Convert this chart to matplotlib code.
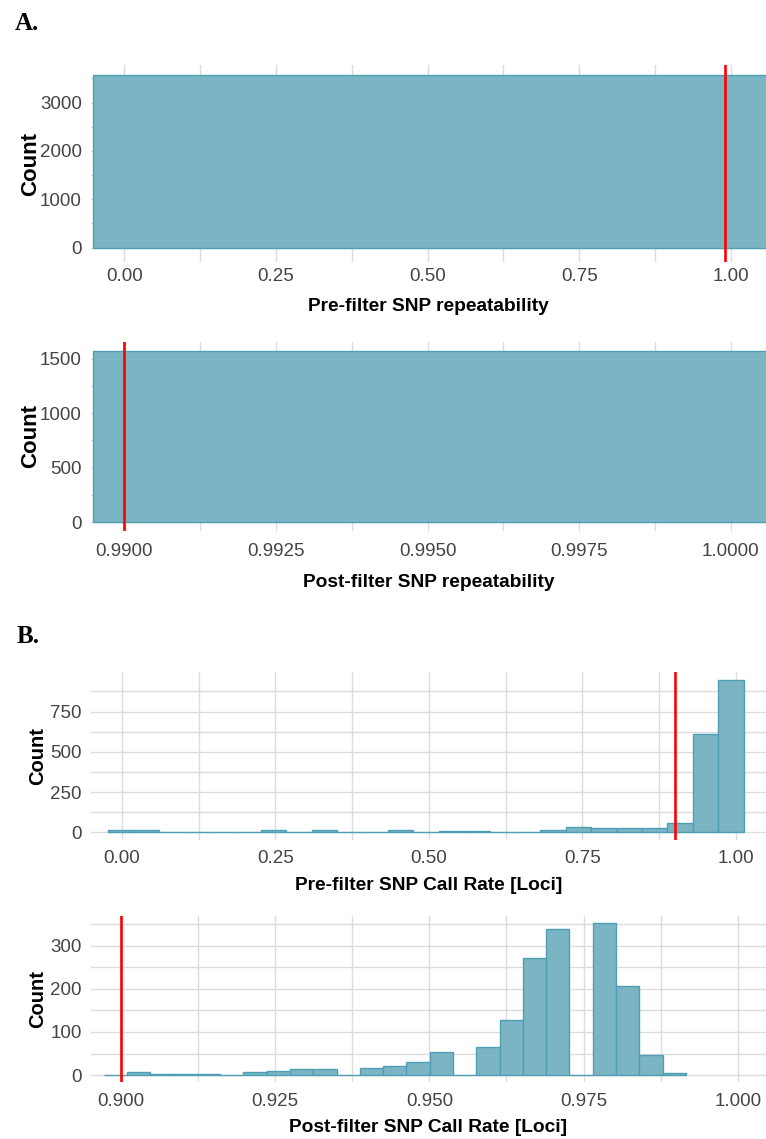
import matplotlib
matplotlib.use("Agg")
import matplotlib.pyplot as plt
import numpy as np
from matplotlib.ticker import MultipleLocator, FormatStrFormatter

# ---- data ----
# A: repeatability, one wide bin fills the whole panel
rep_pre_edges = [-0.051, 1.10]
rep_pre_counts = [3570]
rep_pre_cut = 0.99

rep_post_edges = [0.98948, 1.002]
rep_post_counts = [1570]
rep_post_cut = 0.99

# B: call rate, 25 bins each
cr_pre_start = -0.0223
cr_pre_width = 0.0414
cr_pre_counts = [14, 14, 5, 5, 5, 5, 12, 5, 12, 5, 5, 12, 5,
                 11, 11, 5, 5, 13, 33, 25, 25, 25, 60, 610, 948]
cr_pre_cut = 0.90

cr_post_start = 0.89721
cr_post_width = 0.003775
cr_post_counts = [0, 7, 3, 3, 3, 0, 7, 10, 13, 13, 0, 17, 20, 30,
                  53, 0, 65, 127, 272, 339, 0, 352, 206, 46, 6]
cr_post_cut = 0.90

FILL = "#7BB5C4"
EDGE = "#4E9FB3"
GRID = "#DCDCDC"
TICK_FONT = ["Liberation Sans", "DejaVu Sans"]
LAB_FONT = ["Liberation Sans", "DejaVu Sans"]

W, H = 766, 1139
fig = plt.figure(figsize=(W / 100, H / 100), dpi=100)


def make_axes(top_px, bottom_px, left_px=91):
    return fig.add_axes([left_px / W, 1 - bottom_px / H,
                         (W - left_px) / W, (bottom_px - top_px) / H])


def style(ax, xlim, ylim, xmaj, ymaj, xfmt, xlabel, xpad, xlab_y,
          count_x, count_size):
    ax.set_xlim(*xlim)
    ax.set_ylim(*ylim)
    for s in ax.spines.values():
        s.set_visible(False)
    ax.xaxis.set_major_locator(MultipleLocator(xmaj))
    ax.xaxis.set_minor_locator(MultipleLocator(xmaj / 2))
    ax.yaxis.set_major_locator(MultipleLocator(ymaj))
    ax.yaxis.set_minor_locator(MultipleLocator(ymaj / 2))
    ax.xaxis.set_major_formatter(FormatStrFormatter(xfmt))
    ax.grid(which="both", color=GRID, linewidth=1.0, zorder=0)
    ax.set_axisbelow(True)
    ax.tick_params(which="both", length=0)
    ax.tick_params(axis="x", pad=xpad, labelsize=13.5, labelcolor="#444444")
    ax.tick_params(axis="y", pad=6.5, labelsize=13.5, labelcolor="#444444")
    for t in ax.get_xticklabels() + ax.get_yticklabels():
        t.set_fontfamily(TICK_FONT)
    ax.set_xlabel(xlabel, fontsize=13.8, fontweight="bold",
                  family=LAB_FONT, va="center")
    ax.xaxis.set_label_coords(0.5, xlab_y)
    ax.set_ylabel("Count", fontsize=count_size, fontweight="bold",
                  family=LAB_FONT, va="center")
    ax.yaxis.set_label_coords(count_x, 0.5)


def hist_bars(ax, edges, counts):
    edges = np.asarray(edges, dtype=float)
    ax.bar(edges[:-1], counts, width=np.diff(edges), align="edge",
           color=FILL, edgecolor=EDGE, linewidth=1.0, zorder=2)


# A1 - pre-filter repeatability
ax1 = make_axes(65, 262)
hist_bars(ax1, rep_pre_edges, rep_pre_counts)
ax1.axvline(rep_pre_cut, color="#FF0000", linewidth=1.9, zorder=3)
style(ax1, (-0.055, 1.058), (-300, 3776), 0.25, 1000, "%.2f",
      "Pre-filter SNP repeatability", 4.3, -0.228, -0.089, 16)

# A2 - post-filter repeatability
ax2 = make_axes(342, 531)
hist_bars(ax2, rep_post_edges, rep_post_counts)
ax2.axvline(rep_post_cut, color="#FF0000", linewidth=1.9, zorder=3)
style(ax2, (0.98945, 1.00058), (-78, 1651), 0.0025, 500, "%.4f",
      "Post-filter SNP repeatability", 8.6, -0.27, -0.089, 16)

# B1 - pre-filter call rate
ax3 = make_axes(672, 840)
pre_edges = cr_pre_start + cr_pre_width * np.arange(len(cr_pre_counts) + 1)
hist_bars(ax3, pre_edges, cr_pre_counts)
ax3.axvline(cr_pre_cut, color="#FF0000", linewidth=1.9, zorder=3)
style(ax3, (-0.0505, 1.049), (-47, 995), 0.25, 250, "%.2f",
      "Pre-filter SNP Call Rate [Loci]", 7.2, -0.268, -0.079, 14.5)

# B2 - post-filter call rate
ax4 = make_axes(916, 1082)
post_edges = cr_post_start + cr_post_width * np.arange(len(cr_post_counts) + 1)
hist_bars(ax4, post_edges, cr_post_counts)
ax4.axvline(cr_post_cut, color="#FF0000", linewidth=1.9, zorder=3)
style(ax4, (0.89514, 1.00458), (-16, 369), 0.025, 100, "%.3f",
      "Post-filter SNP Call Rate [Loci]", 8.0, -0.277, -0.079, 14.5)

# panel letters
fig.text(14.7 / W, 1 - 30 / H, "A.", family=["Liberation Serif"],
         fontweight="bold", fontsize=18, va="baseline")
fig.text(16.5 / W, 1 - 643 / H, "B.", family=["Liberation Serif"],
         fontweight="bold", fontsize=18, va="baseline")

fig.savefig("out.png", dpi=100)
